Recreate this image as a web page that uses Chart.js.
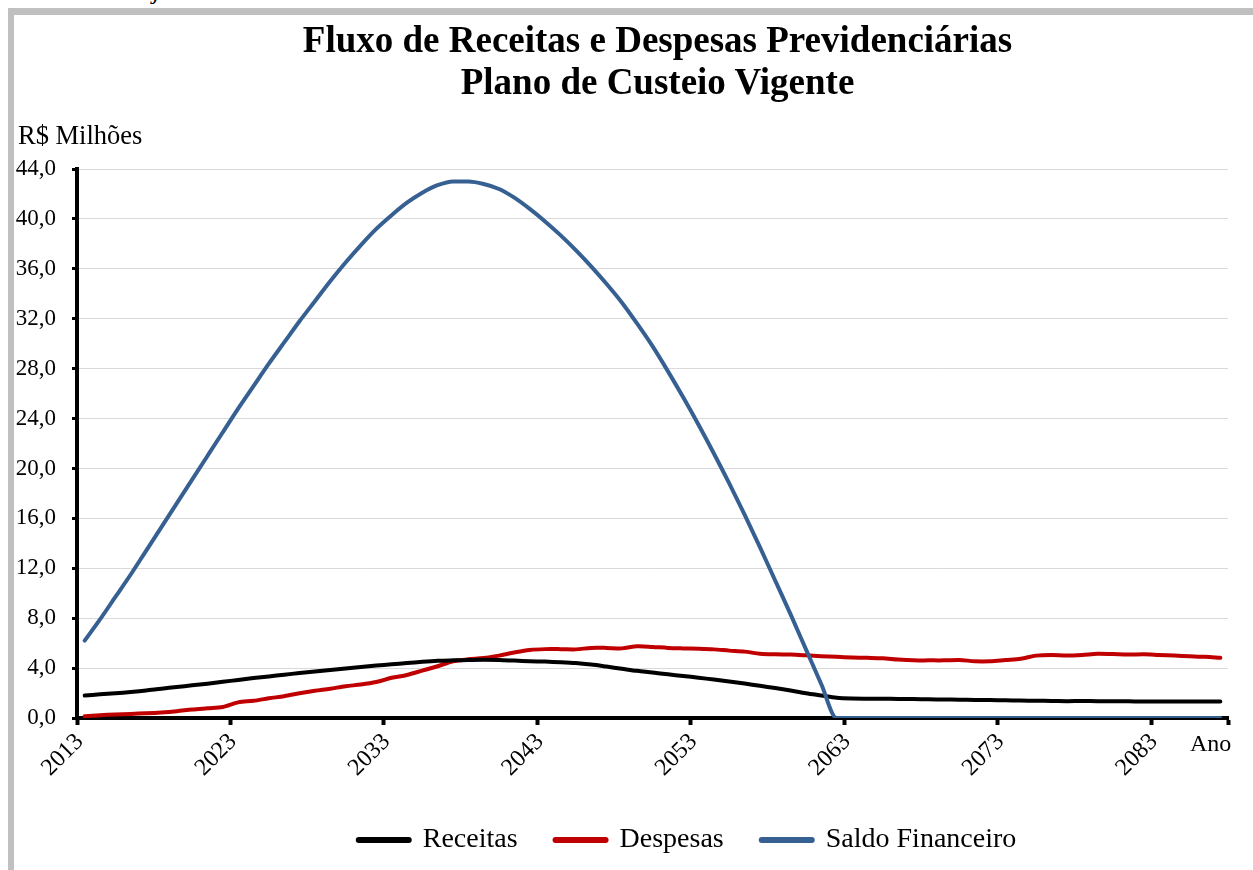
<!DOCTYPE html>
<html>
<head>
<meta charset="utf-8">
<script src="https://cdn.jsdelivr.net/npm/chart.js@4"></script>
<style>
html,body{margin:0;padding:0;background:#fff;overflow:hidden;width:1253px;height:870px;}
body{position:relative;font-family:'Liberation Serif','Times New Roman',serif;color:#000;}
#frame{position:absolute;left:8px;top:8px;width:1400px;height:1000px;border-left:6px solid #c0c0c0;border-top:7px solid #c0c0c0;box-sizing:border-box;}
#wrap{position:absolute;left:0;top:0;width:1375px;height:870px;}
.t{position:absolute;white-space:nowrap;}
.title{left:0;width:1315px;text-align:center;font-weight:bold;font-size:37px;line-height:42px;}
</style>
</head>
<body>
<div id="frame"></div>
<div class="t" style="left:153px;top:-22px;font-size:26px;line-height:26px;font-style:italic;">j</div>
<div id="wrap"><canvas id="c"></canvas></div>
<div class="t title" style="top:19px;">Fluxo de Receitas e Despesas Previdenciárias</div>
<div class="t title" style="top:61px;">Plano de Custeio Vigente</div>
<div class="t" style="left:18px;top:120px;font-size:26.5px;line-height:30px;">R$ Milhões</div>
<div class="t" style="left:1190px;top:729px;font-size:24px;line-height:28px;">Ano</div>
<script>
const years = [2013,2014,2015,2016,2017,2018,2019,2020,2021,2022,
  2023,2024,2025,2026,2027,2028,2029,2030,2031,2032,
  2033,2034,2035,2036,2037,2038,2039,2040,2041,2042,
  2043,2044,2045,2046,2047,2048,2049,2050,2051,2052,
  2053,2054,2055,2056,2057,2058,2059,2060,2061,2062,
  2063,2064,2065,2066,2067,2068,2069,2070,2071,2072,
  2073,2074,2075,2076,2077,2078,2079,2080,2081,2082,
  2083,2084,2085,2086,2087];
const xTickYears = [2013,2023,2033,2043,2053,2063,2073,2083];
const yTicks = [0,4,8,12,16,20,24,28,32,36,40,44];

const receitas = [1.80,1.90,1.98,2.08,2.20,2.35,2.48,2.62,2.75,2.90,
  3.05,3.20,3.33,3.47,3.60,3.72,3.85,3.97,4.08,4.20,
  4.30,4.40,4.50,4.58,4.62,4.65,4.67,4.65,4.60,4.55,
  4.52,4.47,4.40,4.28,4.12,3.95,3.78,3.65,3.50,3.37,
  3.23,3.08,2.92,2.76,2.58,2.40,2.20,1.98,1.80,1.62,
  1.56,1.55,1.55,1.53,1.52,1.50,1.48,1.47,1.45,1.44,
  1.42,1.40,1.38,1.37,1.35,1.36,1.35,1.34,1.34,1.32,
  1.33,1.32,1.33,1.33,1.33];

const despesas = [0.15,0.22,0.28,0.33,0.38,0.45,0.55,0.68,0.78,0.88,
  1.25,1.38,1.58,1.75,1.98,2.18,2.35,2.55,2.68,2.88,
  3.22,3.45,3.80,4.15,4.55,4.70,4.80,5.00,5.25,5.45,
  5.52,5.52,5.50,5.62,5.62,5.58,5.75,5.70,5.62,5.58,
  5.55,5.50,5.40,5.32,5.15,5.10,5.08,5.02,4.95,4.90,
  4.85,4.82,4.78,4.68,4.62,4.62,4.62,4.65,4.55,4.55,
  4.65,4.75,5.00,5.05,5.00,5.05,5.15,5.12,5.08,5.10,
  5.05,5.00,4.95,4.90,4.82];

const saldo = [6.2,7.9,9.7,11.5,13.4,15.3,17.2,19.1,21.0,22.9,
  24.8,26.6,28.4,30.1,31.8,33.4,35.0,36.5,37.9,39.2,
  40.3,41.3,42.1,42.7,43.0,43.0,42.8,42.4,41.7,40.8,
  39.8,38.7,37.5,36.2,34.8,33.3,31.6,29.8,27.8,25.7,
  23.5,21.2,18.8,16.3,13.7,11.0,8.3,5.5,2.7,0,
  0,0,0,0,0,0,0,0,0,0,
  0,0,0,0,0,0,0,0,0,0,
  0,0,0,0,0];

Chart.defaults.font.family = "'Liberation Serif','Times New Roman',serif";
Chart.defaults.color = '#000';

new Chart(document.getElementById('c'), {
  type: 'line',
  data: {
    labels: years.map(String),
    datasets: [
      {label:'Receitas', data:receitas, borderColor:'#000000', backgroundColor:'#000000', borderWidth:4, pointRadius:0, tension:0.3, borderCapStyle:'round', borderJoinStyle:'round'},
      {label:'Despesas', data:despesas, borderColor:'#c00000', backgroundColor:'#c00000', borderWidth:4, pointRadius:0, tension:0.3, borderCapStyle:'round', borderJoinStyle:'round'},
      {label:'Saldo Financeiro', data:saldo, borderColor:'#376092', backgroundColor:'#376092', borderWidth:4, pointRadius:0, cubicInterpolationMode:'monotone', borderCapStyle:'round', borderJoinStyle:'round', order:-1}
    ]
  },
  options: {
    responsive:true, maintainAspectRatio:false, animation:false, devicePixelRatio:1,
    layout:{padding:{top:169, bottom:6, left:0, right:0}},
    plugins:{
      title:{display:false},
      tooltip:{enabled:false},
      legend:{
        position:'bottom',
        labels:{
          font:{size:28}, color:'#000', usePointStyle:true, pointStyle:'line', pointStyleWidth:50, padding:38,
          sort:(a,b)=>a.datasetIndex-b.datasetIndex,
          generateLabels:(chart)=>Chart.defaults.plugins.legend.labels.generateLabels(chart).map(l=>Object.assign(l,{lineWidth:6, lineCap:'round'}))
        }
      }
    },
    scales:{
      x:{
        type:'category', offset:true,
        afterFit:(s)=>{ s.height = 70; },
        grid:{offset:true, drawOnChartArea:false, drawTicks:true, tickLength:7, tickWidth:4,
          tickColor:(c)=> (c.index===undefined || c.index%10===0) ? '#000' : 'rgba(0,0,0,0)'},
        border:{display:true, color:'#000', width:4},
        ticks:{autoSkip:false, maxRotation:45, minRotation:45, padding:3, labelOffset:-5, font:{size:24}, color:'#000',
          callback:(v,i)=> xTickYears.includes(years[i]) ? String(years[i]) : ''}
      },
      y:{
        position:'left', min:yTicks[0], max:yTicks[yTicks.length-1],
        afterFit:(s)=>{ s.width = 77; },
        afterBuildTicks:(s)=>{ s.ticks = yTicks.map(v=>({value:v})); },
        ticks:{padding:16, font:{size:23}, color:'#000', callback:(v)=>Number(v).toFixed(1).replace('.',',')},
        grid:{color:'#d9d9d9', lineWidth:1, tickColor:'#000', tickLength:5, tickWidth:3},
        border:{display:true, color:'#000', width:4}
      },
      y2:{
        position:'right', display:true,
        afterFit:(s)=>{ s.width = 147; },
        grid:{display:false}, border:{display:false}, ticks:{display:false}
      }
    }
  }
});
</script>
</body>
</html>
